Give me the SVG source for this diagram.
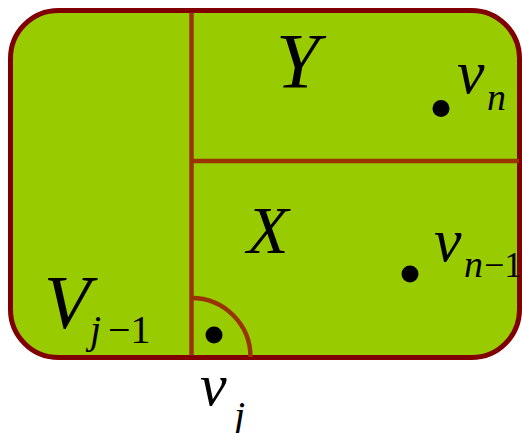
<svg xmlns="http://www.w3.org/2000/svg" width="522" height="433" viewBox="0 0 522 433">
<style>
.t{font-family:"Liberation Serif",serif;font-style:italic;fill:#000}
.r{font-family:"Liberation Serif",serif;fill:#000}
.div{stroke:#993300;stroke-width:4.5;fill:none}
.dot{fill:#000}
</style>
<g id="region">
<rect x="10.5" y="10.5" width="509" height="347" rx="48" ry="48" fill="#99cc00" stroke="#800000" stroke-width="5"/>
</g>
<g id="dividers">
<line class="div" x1="191.5" y1="13" x2="191.5" y2="355"/>
<line class="div" x1="191.5" y1="161" x2="519" y2="161"/>
<path class="div" d="M191.5,298 A59,59 0 0 1 250.5,357"/>
</g>
<g id="labels">
<text class="t" x="276" y="87" font-size="78">Y</text>
<text class="t" x="247" y="253" font-size="68">X</text>
<text class="t" x="44" y="328" font-size="76">V</text>
<text class="t" x="90" y="343" font-size="40">j</text>
<text class="r" x="108" y="343" font-size="40">−1</text>
</g>
<g id="vn">
<circle class="dot" cx="441" cy="108.5" r="8.5"/>
<text class="t" x="457" y="93" font-size="62">v</text>
<text class="t" x="487" y="110" font-size="38">n</text>
</g>
<g id="vn1">
<circle class="dot" cx="410" cy="274" r="8.5"/>
<text class="t" x="434" y="261" font-size="62">v</text>
<text class="t" x="464" y="277" font-size="38">n</text>
<text class="r" x="484" y="277" font-size="36">−1</text>
</g>
<g id="vj">
<circle class="dot" cx="214" cy="335" r="8.5"/>
<text class="t" x="200" y="405" font-size="60">v</text>
<text class="t" x="234" y="429" font-size="40">j</text>
</g>
</svg>
